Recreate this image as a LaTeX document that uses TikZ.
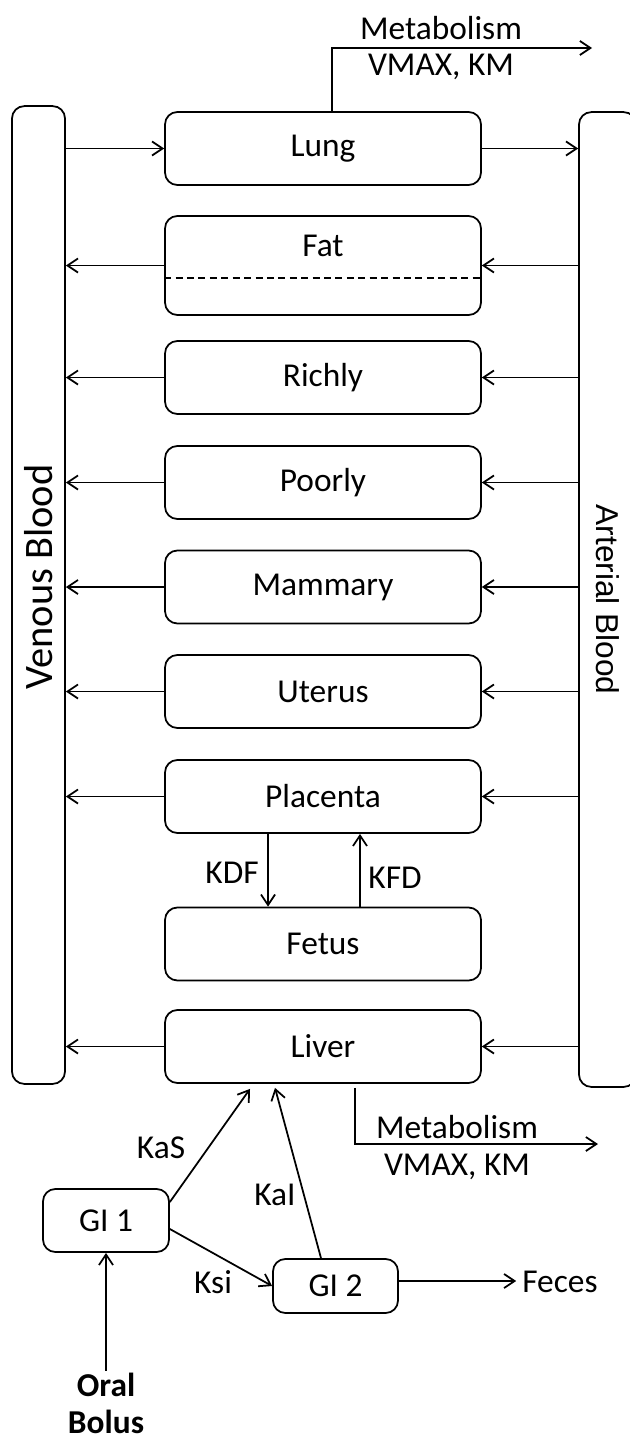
\documentclass[tikz,border=0pt]{standalone}
\usepackage{fontspec}
\setmainfont{Carlito}
\newfontfamily\arialfont{Liberation Sans}
\usetikzlibrary{arrows.meta}

\tikzset{
  organ/.style={draw, line width=1pt, rounded corners=7pt, minimum width=6.32cm, minimum height=1.46cm, inner sep=0pt},
  bloodbar/.style={draw, line width=1pt, rounded corners=7pt, inner sep=0pt},
  gibox/.style={draw, line width=1pt, rounded corners=7pt, inner sep=0pt},
  flow/.style={line width=1pt, -{Straight Barb[length=6pt,width=8pt]}},
}

\begin{document}
\begin{tikzpicture}[x=0.02cm, y=-0.02cm, font=\fontsize{19}{23}\selectfont]

    \useasboundingbox (0,0) rectangle (629,1440);

    % Blood pools
    \node[bloodbar, rotate=90, minimum width=19.56cm, minimum height=1.06cm, font=\fontsize{23}{27}\selectfont] (ven) at (38.5,595) {\hspace*{0.72cm}Venous Blood};
    \node[bloodbar, rotate=-90, minimum width=19.5cm, minimum height=1.14cm, font=\arialfont\fontsize{18}{22}\selectfont] (art) at (607.5,599.5) {Arterial Blood};

    % Compartments
    \node[organ] (lung) at (323,148.5) {Lung};
    \node[organ, minimum height=1.98cm, label={[anchor=center, yshift=-0.62cm]north:Fat}] (fat) at (323,265.5) {};
    \node[organ] (rich) at (323,377.5) {Richly};
    \node[organ] (poor) at (323,482.5) {Poorly};
    \node[organ] (mamm) at (323,587) {Mammary};
    \node[organ] (uter) at (323,691.5) {Uterus};
    \node[organ] (plac) at (323,796.5) {Placenta};
    \node[organ] (fetus) at (323,944) {Fetus};
    \node[organ] (liver) at (323,1046.5) {Liver};

    %% Fat split
    \draw[line width=0.8pt, dash pattern=on 4pt off 2.5pt] (fat.west |- 0,278) -- (fat.east |- 0,278);

    % Lung in and out
    \draw[flow] (lung.west -| ven.south) -- (lung.west);
    \draw[flow] (lung.east) -- (lung.east -| art.south);

    %% Lung metabolism
    \coordinate (lungout) at (592,48);
    \draw[flow] ([xshift=0.18cm]lung.north) |- (lungout);
    \node (lungmet) at (441,28) {Metabolism};
    \node (lungkin) at (441,67) {VMAX, KM};

    % Arterial to tissues, tissues to venous
    \draw[flow] (fat.east -| art.south) -- (fat.east);
    \draw[flow] (fat.west) -- (fat.west -| ven.south);
    \draw[flow] (rich.east -| art.south) -- (rich.east);
    \draw[flow] (rich.west) -- (rich.west -| ven.south);
    \draw[flow] (poor.east -| art.south) -- (poor.east);
    \draw[flow] (poor.west) -- (poor.west -| ven.south);
    \draw[flow] (mamm.east -| art.south) -- (mamm.east);
    \draw[flow] (mamm.west) -- (mamm.west -| ven.south);
    \draw[flow] (uter.east -| art.south) -- (uter.east);
    \draw[flow] (uter.west) -- (uter.west -| ven.south);
    \draw[flow] (plac.east -| art.south) -- (plac.east);
    \draw[flow] (plac.west) -- (plac.west -| ven.south);
    \draw[flow] (liver.east -| art.south) -- (liver.east);
    \draw[flow] (liver.west) -- (liver.west -| ven.south);

    % Placenta and fetus
    \coordinate (kdftop) at ([xshift=-1.1cm]plac.south);
    \coordinate (kfdtop) at ([xshift=0.74cm]plac.south);
    \draw[flow] (kdftop) -- (kdftop |- fetus.north);
    \draw[flow] (kfdtop |- fetus.north) -- (kfdtop);
    \node (kdf) at (232,873) {KDF};
    \node (kfd) at (395,878) {KFD};

    %% Liver metabolism
    \coordinate (liverout) at (598,1144);
    \draw[flow] ([xshift=0.64cm, yshift=-0.08cm]liver.south) |- (liverout);
    \node (livermet) at (457,1127) {Metabolism};
    \node (liverkin) at (457,1167) {VMAX, KM};

    % Gut
    \node[gibox, minimum width=2.52cm, minimum height=1.26cm] (gi1) at (106,1220.5) {GI 1};
    \node[gibox, minimum width=2.5cm, minimum height=1.08cm] (gi2) at (335.5,1286) {GI 2};
    \node[font=\bfseries\fontsize{19}{21}\selectfont, align=center] (bolus) at (106,1403) {Oral\\Bolus};
    \node (feces) at (560,1282) {Feces};

    \draw[flow] ([yshift=-0.08cm]bolus.north) -- (gi1.south);
    \draw[flow] ([yshift=0.37cm]gi1.east) -- ([xshift=-1.46cm, yshift=-0.1cm]liver.south);
    \draw[flow] ([yshift=-0.17cm]gi1.east) -- (gi2.west);
    \draw[flow] ([xshift=-0.29cm]gi2.north) -- ([xshift=-0.96cm, yshift=-0.08cm]liver.south);
    \draw[flow] ([yshift=0.1cm]gi2.east) -- ([yshift=0.1cm]gi2.east -| feces.west);

    %% Rate labels
    \node (kas) at (161,1148) {KaS};
    \node (kai) at (275,1195) {KaI};
    \node (ksi) at (213,1282) {Ksi};

\end{tikzpicture}
\end{document}
